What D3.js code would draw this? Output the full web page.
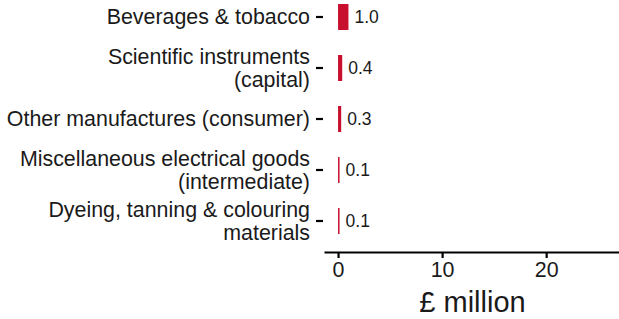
<!DOCTYPE html>
<html>
<head>
<meta charset="utf-8">
<script src="https://cdn.jsdelivr.net/npm/d3@7"></script>
<style>
  body { margin: 0; background: #fff; }
  text { font-family: "Liberation Sans", Arial, sans-serif; fill: #1a1a1a; }
</style>
</head>
<body>
<div id="chart"></div>
<script>
// data
var categories = [
    ["Beverages & tobacco"],
    ["Scientific instruments", "(capital)"],
    ["Other manufactures (consumer)"],
    ["Miscellaneous electrical goods", "(intermediate)"],
    ["Dyeing, tanning & colouring", "materials"]
];
var values = [1.0, 0.4, 0.3, 0.1, 0.1];
var valueLabels = ["1.0", "0.4", "0.3", "0.1", "0.1"];
var xTicks = [0, 10, 20];
var xTitle = "£ million";

var width = 619, height = 319;
var svg = d3.select("#chart").append("svg")
    .attr("width", width)
    .attr("height", height);

var keys = categories.map(function (c) { return c.join(" "); });

// scales
var x = d3.scaleLinear().domain([-1.35, 27.0]).range([324, 619]);
var y = d3.scalePoint().domain(keys).range([17, 221]);
var barH = 26;

// bars
svg.selectAll("rect.bar")
    .data(values)
    .enter()
    .append("rect")
    .attr("class", "bar")
    .attr("x", x(0))
    .attr("y", function (d, i) { return y(keys[i]) - barH / 2; })
    .attr("width", function (d) { return Math.max(1.5, x(d) - x(0)); })
    .attr("height", barH)
    .attr("fill", "#c8102e");

// value labels
svg.selectAll("text.val")
    .data(values)
    .enter()
    .append("text")
    .attr("class", "val")
    .attr("x", function (d) { return Math.max(x(0) + 1.5, x(d)) + 6; })
    .attr("y", function (d, i) { return y(keys[i]); })
    .attr("dy", "0.35em")
    .style("font-size", "17.5px")
    .text(function (d, i) { return valueLabels[i]; });

// y axis (ticks + wrapped labels, no line)
var yAxis = svg.append("g");
keys.forEach(function (k, i) {
    var cy = y(k);
    yAxis.append("line")
        .attr("x1", 316).attr("x2", 323)
        .attr("y1", cy).attr("y2", cy)
        .attr("stroke", "#000").attr("stroke-width", 2.2);
    var lines = categories[i];
    var lh = 23.5;
    var t = yAxis.append("text")
        .attr("text-anchor", "end")
        .style("font-size", "21.4px");
    lines.forEach(function (ln, j) {
        t.append("tspan")
            .attr("x", 310)
            .attr("y", cy + (j - (lines.length - 1) / 2) * lh)
            .attr("dy", "0.35em")
            .text(ln);
    });
});

// x axis
var xAxis = svg.append("g")
    .attr("transform", "translate(0,252)")
    .call(d3.axisBottom(x).tickValues(xTicks).tickSize(6).tickPadding(4).tickSizeOuter(0));
xAxis.select(".domain").attr("stroke", "#000").attr("stroke-width", 2.2);
xAxis.selectAll(".tick line").attr("stroke", "#000").attr("stroke-width", 2.2);
xAxis.selectAll(".tick text")
    .style("font-size", "21.4px")
    .attr("fill", "#1a1a1a")
    .style("font-family", "'Liberation Sans', Arial, sans-serif");

// axis title
svg.append("text")
    .attr("x", (324 + 619) / 2 + 1)
    .attr("y", 312)
    .attr("text-anchor", "middle")
    .style("font-size", "29px")
    .text(xTitle);
</script>
</body>
</html>
